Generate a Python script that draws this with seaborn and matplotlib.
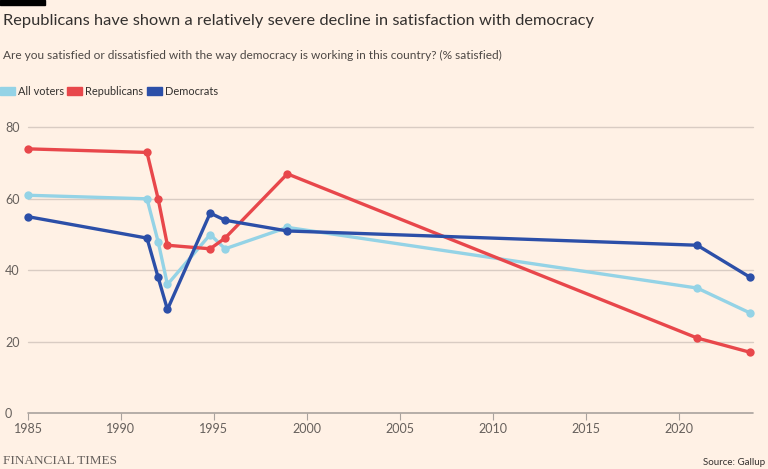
import numpy as np
import pandas as pd
import matplotlib
matplotlib.use("Agg")
import matplotlib.pyplot as plt
import matplotlib.patches as mpatches
import seaborn as sns

years = [1985.0, 1991.4, 1992.0, 1992.5, 1994.8, 1995.6, 1998.95, 2021.0, 2023.85]
all_voters = [61, 60, 48, 36, 50, 46, 52, 35, 28]
republicans = [74, 73, 60, 47, 46, 49, 67, 21, 17]
democrats = [55, 49, 38, 29, 56, 54, 51, 47, 38]
series_names = ["All voters", "Republicans", "Democrats"]
colors = ["#94D3E6", "#E8474B", "#2C4FA8"]
x_ticks = [1985, 1990, 1995, 2000, 2005, 2010, 2015, 2020]
y_ticks = [0, 20, 40, 60, 80]

df = pd.DataFrame({
    "year": years * 3,
    "value": all_voters + republicans + democrats,
    "group": [series_names[0]] * len(years) + [series_names[1]] * len(years) + [series_names[2]] * len(years),
})

bg = "#FFF1E5"
sns.set_theme(style="white")
plt.rcParams["font.family"] = ["Lato", "DejaVu Sans"]

fig = plt.figure(figsize=(7.68, 4.69), dpi=100, facecolor=bg)
ax = fig.add_axes([28 / 768, (469 - 413) / 469, (753 - 28) / 768, (413 - 120.3) / 469])
ax.set_facecolor(bg)

for y in y_ticks[1:]:
    ax.axhline(y, color="#D9CCC3", lw=1.0, zorder=0)
ax.axhline(0, color="#A9A29D", lw=1.2, zorder=1)

sns.lineplot(data=df, x="year", y="value", hue="group", palette=dict(zip(series_names, colors)),
             marker="o", markersize=6, markeredgewidth=0, lw=2.4, legend=False, ax=ax,
             hue_order=series_names)
for l in ax.lines:
    l.set_clip_on(False)

ax.set_xlim(1985, 2024)
ax.set_ylim(0, 82)
for s in ax.spines.values():
    s.set_visible(False)
ax.set_xlabel("")
ax.set_ylabel("")
ax.set_xticks(x_ticks)
ax.set_xticklabels([str(t) for t in x_ticks], fontsize=9, color="#66605C")
ax.tick_params(axis="x", length=5, width=0.8, color="#A9A29D", pad=2, bottom=True)
ax.set_yticks(y_ticks)
ax.set_yticklabels([str(t) for t in y_ticks], fontsize=9, color="#66605C")
ax.tick_params(axis="y", length=0, pad=16.5)
for lab in ax.get_yticklabels():
    lab.set_horizontalalignment("left")

# header
fig.patches.append(mpatches.Rectangle((0, 1 - 5 / 469), 45 / 768, 5 / 469, transform=fig.transFigure,
                                      color="#000000", zorder=5))
fig.text(3 / 768, 1 - 21 / 469, "Republicans have shown a relatively severe decline in satisfaction with democracy",
         fontsize=11.8, color="#33302E", va="center", ha="left")
fig.text(3 / 768, 1 - 55 / 469, "Are you satisfied or dissatisfied with the way democracy is working in this country? (% satisfied)",
         fontsize=8.6, color="#4D4845", va="center", ha="left")

# legend
for name, c, lx in zip(series_names, colors, [0, 67, 147]):
    fig.patches.append(mpatches.Rectangle((lx / 768, 1 - 95 / 469), 15 / 768, 8 / 469,
                                          transform=fig.transFigure, color=c))
    fig.text((lx + 18) / 768, 1 - 91.5 / 469, name, fontsize=7.9, color="#33302E", va="center", ha="left")

fig.text(3 / 768, 1 - 461 / 469, "FINANCIAL TIMES", fontsize=9.5, color="#66605C",
         family=["Liberation Serif", "DejaVu Serif"], va="center", ha="left")
fig.text(765 / 768, 1 - 462 / 469, "Source: Gallup", fontsize=7, color="#33302E", va="center", ha="right")

fig.savefig("out.png", dpi=100, facecolor=bg)
